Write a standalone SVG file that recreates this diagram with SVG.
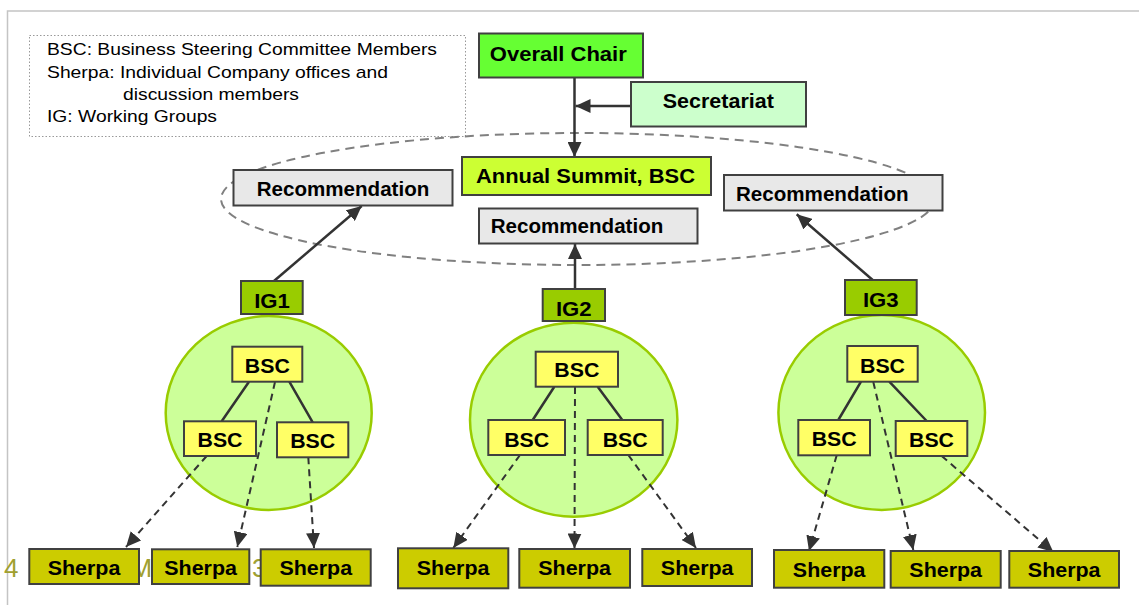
<svg xmlns="http://www.w3.org/2000/svg" width="1139" height="605" viewBox="0 0 1139 605">
<defs>
<style>
.box{stroke:#404040;stroke-width:2}
.lbl{font-family:"Liberation Sans",Arial,sans-serif;font-weight:bold;font-size:20px;fill:#000}
.leg{font-family:"Liberation Sans",Arial,sans-serif;font-size:17px;fill:#000}
.foot{font-family:"Liberation Sans",Arial,sans-serif;font-size:26px;fill:#a0a030}
.solid{stroke:#333;stroke-width:2.5;fill:none}
.dash{stroke:#333;stroke-width:2;fill:none;stroke-dasharray:7 5}
.grp{fill:#ccff99;stroke:#99cc00;stroke-width:2.5}
.rec{fill:#e8e8e8}
.bsc{fill:#ffff66}
.ig{fill:#99cc00}
.sh{fill:#cccc00}
</style>
<marker id="ah" viewBox="0 0 15 14" refX="15" refY="7" markerWidth="15" markerHeight="14" markerUnits="userSpaceOnUse" orient="auto">
<path d="M0,0 L15,7 L0,14 z" fill="#333"/>
</marker>
</defs>
<rect width="1139" height="605" fill="#fff"/>
<g id="frame" stroke="#c4c4c4" stroke-width="1.5" fill="none">
<path d="M7.5,605 V11 H1139"/>
</g>
<g id="legend">
<rect x="29.5" y="35.5" width="436" height="101" fill="none" stroke="#999" stroke-width="1" stroke-dasharray="1.5 2"/>
<text class="leg" x="47" y="55" textLength="390" lengthAdjust="spacingAndGlyphs">BSC: Business Steering Committee Members</text>
<text class="leg" x="47" y="78" textLength="341" lengthAdjust="spacingAndGlyphs">Sherpa: Individual Company offices and</text>
<text class="leg" x="123" y="100" textLength="176" lengthAdjust="spacingAndGlyphs">discussion members</text>
<text class="leg" x="47" y="122" textLength="170" lengthAdjust="spacingAndGlyphs">IG: Working Groups</text>
</g>
<g id="footer">
<text class="foot" x="4" y="577">4</text>
<text class="foot" x="130.5" y="577">M</text>
<text class="foot" x="252" y="577">3</text>
</g>
<g id="summit-zone">
<ellipse cx="578" cy="199" rx="357" ry="66" fill="none" stroke="#808080" stroke-width="2" stroke-dasharray="9 6"/>
</g>
<g id="group1"><ellipse class="grp" cx="268.7" cy="413" rx="103" ry="97"/></g>
<g id="group2"><ellipse class="grp" cx="573.7" cy="419.7" rx="103.7" ry="97"/></g>
<g id="group3"><ellipse class="grp" cx="881.7" cy="412.5" rx="103.3" ry="97.5"/></g>
<g id="connectors">
<path class="solid" d="M574.5,78 V157" marker-end="url(#ah)"/>
<path class="solid" d="M630.5,106 H575.5" marker-end="url(#ah)"/>
<path class="solid" d="M274,281 L361.7,206" marker-end="url(#ah)"/>
<path class="solid" d="M575,289 V244" marker-end="url(#ah)"/>
<path class="solid" d="M872.7,280 L796.7,214.3" marker-end="url(#ah)"/>
<path class="solid" d="M249,381.7 L221.7,421.3 M289.3,381.7 L312.7,422.3"/>
<path class="solid" d="M554.3,386.7 L532.7,420 M597.7,386.7 L622.3,420"/>
<path class="solid" d="M861,381.7 L838.3,420 M889.3,381.7 L926.7,421"/>
<path class="dash" d="M206.7,456 L126,547" marker-end="url(#ah)"/>
<path class="dash" d="M275,382 L237.3,547" marker-end="url(#ah)"/>
<path class="dash" d="M308.3,457.3 L314,548" marker-end="url(#ah)"/>
<path class="dash" d="M520,455 L453.3,548" marker-end="url(#ah)"/>
<path class="dash" d="M575,387 L574.5,548.5" marker-end="url(#ah)"/>
<path class="dash" d="M628.3,455 L696,548" marker-end="url(#ah)"/>
<path class="dash" d="M836.7,455.3 L809,551" marker-end="url(#ah)"/>
<path class="dash" d="M873.3,382 L913.3,550" marker-end="url(#ah)"/>
<path class="dash" d="M941.7,456 L1053.3,552" marker-end="url(#ah)"/>
</g>
<g id="overall-chair"><rect class="box" x="479" y="33.5" width="164" height="44" fill="#66ff33"/><text class="lbl" x="558.3" y="61" text-anchor="middle" textLength="137" lengthAdjust="spacingAndGlyphs">Overall Chair</text></g>
<g id="secretariat"><rect class="box" x="631" y="82" width="175" height="44.5" fill="#ccffcc"/><text class="lbl" x="718.3" y="108" text-anchor="middle" textLength="111" lengthAdjust="spacingAndGlyphs">Secretariat</text></g>
<g id="annual-summit"><rect class="box" x="462" y="157" width="249" height="38" fill="#ccff33"/><text class="lbl" x="585.5" y="183" text-anchor="middle" textLength="219" lengthAdjust="spacingAndGlyphs">Annual Summit, BSC</text></g>
<g id="rec-left"><rect class="box rec" x="233.5" y="170" width="219" height="35.5"/><text class="lbl" x="256.7" y="196" textLength="172.6" lengthAdjust="spacingAndGlyphs">Recommendation</text></g>
<g id="rec-mid"><rect class="box rec" x="479" y="208.5" width="218.5" height="35"/><text class="lbl" x="490.7" y="233" textLength="172.6" lengthAdjust="spacingAndGlyphs">Recommendation</text></g>
<g id="rec-right"><rect class="box rec" x="724" y="175" width="218.5" height="35.5"/><text class="lbl" x="736" y="201" textLength="172.6" lengthAdjust="spacingAndGlyphs">Recommendation</text></g>
<g id="ig1"><rect class="box ig" x="241" y="281" width="61.7" height="33"/><text class="lbl" x="272" y="307.7" text-anchor="middle" textLength="35.7" lengthAdjust="spacingAndGlyphs">IG1</text></g>
<g id="ig2"><rect class="box ig" x="542.7" y="289" width="62.3" height="32"/><text class="lbl" x="573.8" y="316" text-anchor="middle" textLength="35.7" lengthAdjust="spacingAndGlyphs">IG2</text></g>
<g id="ig3"><rect class="box ig" x="845" y="280" width="71.7" height="35"/><text class="lbl" x="880.8" y="306.7" text-anchor="middle" textLength="35.7" lengthAdjust="spacingAndGlyphs">IG3</text></g>
<g id="bsc1-top"><rect class="box bsc" x="232.3" y="346.7" width="70" height="35"/><text class="lbl" x="267.3" y="372.7" text-anchor="middle" textLength="45" lengthAdjust="spacingAndGlyphs">BSC</text></g>
<g id="bsc1-left"><rect class="box bsc" x="184" y="421.3" width="72" height="34.7"/><text class="lbl" x="220" y="446.7" text-anchor="middle" textLength="45" lengthAdjust="spacingAndGlyphs">BSC</text></g>
<g id="bsc1-right"><rect class="box bsc" x="277" y="422.3" width="71.3" height="35"/><text class="lbl" x="312.7" y="447.7" text-anchor="middle" textLength="45" lengthAdjust="spacingAndGlyphs">BSC</text></g>
<g id="bsc2-top"><rect class="box bsc" x="535.7" y="351.7" width="82.3" height="35"/><text class="lbl" x="576.8" y="377.3" text-anchor="middle" textLength="45" lengthAdjust="spacingAndGlyphs">BSC</text></g>
<g id="bsc2-left"><rect class="box bsc" x="488.3" y="420" width="76.7" height="35"/><text class="lbl" x="526.7" y="446.7" text-anchor="middle" textLength="45" lengthAdjust="spacingAndGlyphs">BSC</text></g>
<g id="bsc2-right"><rect class="box bsc" x="587.7" y="420" width="75" height="35"/><text class="lbl" x="625.2" y="446.7" text-anchor="middle" textLength="45" lengthAdjust="spacingAndGlyphs">BSC</text></g>
<g id="bsc3-top"><rect class="box bsc" x="847.3" y="346" width="70.4" height="35.7"/><text class="lbl" x="882.5" y="372.7" text-anchor="middle" textLength="45" lengthAdjust="spacingAndGlyphs">BSC</text></g>
<g id="bsc3-left"><rect class="box bsc" x="798.3" y="420" width="71.7" height="35.3"/><text class="lbl" x="834.2" y="446" text-anchor="middle" textLength="45" lengthAdjust="spacingAndGlyphs">BSC</text></g>
<g id="bsc3-right"><rect class="box bsc" x="895.7" y="421" width="71.6" height="35"/><text class="lbl" x="931.5" y="447.3" text-anchor="middle" textLength="45" lengthAdjust="spacingAndGlyphs">BSC</text></g>
<g id="sherpa1-1"><rect class="box sh" x="29.3" y="549" width="109.7" height="35"/><text class="lbl" x="84" y="575" text-anchor="middle" textLength="72.7" lengthAdjust="spacingAndGlyphs">Sherpa</text></g>
<g id="sherpa1-2"><rect class="box sh" x="152" y="549.3" width="97.3" height="34.7"/><text class="lbl" x="200.6" y="575" text-anchor="middle" textLength="72.7" lengthAdjust="spacingAndGlyphs">Sherpa</text></g>
<g id="sherpa1-3"><rect class="box sh" x="260.7" y="549.3" width="110" height="36.4"/><text class="lbl" x="315.8" y="575" text-anchor="middle" textLength="72.7" lengthAdjust="spacingAndGlyphs">Sherpa</text></g>
<g id="sherpa2-1"><rect class="box sh" x="398" y="548.3" width="110.3" height="40"/><text class="lbl" x="453.1" y="575" text-anchor="middle" textLength="72.7" lengthAdjust="spacingAndGlyphs">Sherpa</text></g>
<g id="sherpa2-2"><rect class="box sh" x="519.3" y="549" width="110.7" height="38.7"/><text class="lbl" x="574.6" y="575" text-anchor="middle" textLength="72.7" lengthAdjust="spacingAndGlyphs">Sherpa</text></g>
<g id="sherpa2-3"><rect class="box sh" x="642.3" y="549" width="109.7" height="37"/><text class="lbl" x="697.2" y="575" text-anchor="middle" textLength="72.7" lengthAdjust="spacingAndGlyphs">Sherpa</text></g>
<g id="sherpa3-1"><rect class="box sh" x="774" y="550" width="110.3" height="37.7"/><text class="lbl" x="829.2" y="577.3" text-anchor="middle" textLength="72.7" lengthAdjust="spacingAndGlyphs">Sherpa</text></g>
<g id="sherpa3-2"><rect class="box sh" x="890.7" y="551" width="110" height="36.7"/><text class="lbl" x="945.7" y="577.3" text-anchor="middle" textLength="72.7" lengthAdjust="spacingAndGlyphs">Sherpa</text></g>
<g id="sherpa3-3"><rect class="box sh" x="1009.3" y="551" width="109.7" height="36.7"/><text class="lbl" x="1064.2" y="577.3" text-anchor="middle" textLength="72.7" lengthAdjust="spacingAndGlyphs">Sherpa</text></g>
</svg>
